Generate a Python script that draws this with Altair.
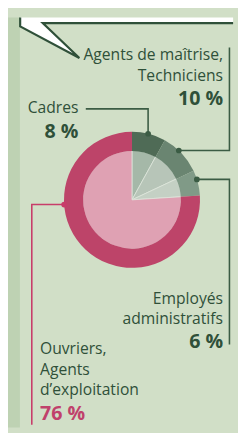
import altair as alt
import pandas as pd
import numpy as np

# ---------------- data ----------------
categories = ["Cadres", "Agents de maîtrise, Techniciens",
              "Employés administratifs", "Ouvriers, Agents d’exploitation"]
shares = [8, 10, 6, 76]
label_lines = [["Cadres"], ["Agents de maîtrise,", "Techniciens"],
               ["Employés", "administratifs"], ["Ouvriers,", "Agents", "d’exploitation"]]
ring_colors = ["#4f6b56", "#6a8571", "#809a87", "#bd4469"]
inner_colors = ["#a5b8a8", "#b7c5b8", "#c4d0c4", "#dfa1b3"]
pct_colors = ["#2f5039", "#2f5039", "#2f5039", "#c0416b"]
leader_colors = ["#3b5c44", "#3b5c44", "#3b5c44", "#c83d6a"]

# ---------------- layout (reference pixel space) ----------------
W_REF, H_REF = 246, 435
W, H = 230, 419
SX, SY = W / W_REF, H / H_REF
CX, CY = 135.5, 193.5
R_OUT, R_IN = 69.5, 50.5
BG = "#d1dfc7"
STRIP = "#bed2b3"
DARK = "#2f5039"

label_x = [77, 235, 235, 35]
label_align = ["right", "right", "right", "left"]
label_first_baseline = [101.5, 45.5, 303.5, 357.5]
line_gap = 21.6
pct_baseline = [127.5, 92.5, 350.5, 427.5]
dot_angles = [13.7, 43.5, 72.5, 266]
# leader: (first direction, elbow coordinate, end coordinate)
leader_spec = [("v", 97, 85), ("h", 242, 32), ("h", 242, 347), ("h", 26, 432)]

x_scale = alt.Scale(domain=[0, W_REF], range=[0, W], nice=False, zero=False)
y_scale = alt.Scale(domain=[0, H_REF], range=[0, H], nice=False, zero=False)
X = lambda f: alt.X(f, scale=x_scale, axis=None)
Y = lambda f: alt.Y(f, scale=y_scale, axis=None)

# ---------------- background shapes ----------------
strip_df = pd.DataFrame({"x": [0], "x2": [13], "y": [0], "y2": [H_REF]})
strip = alt.Chart(strip_df).mark_rect(color=STRIP).encode(
    x=X("x:Q"), x2="x2:Q", y=Y("y:Q"), y2="y2:Q")

bubble_df = pd.DataFrame({"x": [13], "x2": [W_REF], "y": [0], "y2": [6]})
bubble = alt.Chart(bubble_df).mark_rect(color="white").encode(
    x=X("x:Q"), x2="x2:Q", y=Y("y:Q"), y2="y2:Q")

tail_df = pd.DataFrame({"x": [13, 38, 78], "y": [6, 6, 43], "y2": [10, 22.7, 43]})
tail = alt.Chart(tail_df).mark_area(color="white", interpolate="linear").encode(
    x=X("x:Q"), y=Y("y:Q"), y2="y2:Q")

border_df = pd.DataFrame({"x": [W_REF, 38, 78, 13.3, 13.3],
                          "y": [6, 6, 43, 9.5, 0], "o": [0, 1, 2, 3, 4]})
border = alt.Chart(border_df).mark_line(color=DARK, strokeWidth=2.2, strokeJoin="miter").encode(
    x=X("x:Q"), y=Y("y:Q"), order="o:Q")

# ---------------- pie ----------------
pie_df = pd.DataFrame({"cat": categories, "share": shares, "idx": range(4),
                       "ring": ring_colors, "inner": inner_colors})
cx_px, cy_px = CX * SX, CY * SY

inner = alt.Chart(pie_df).mark_arc(radius=R_IN, stroke="#dfe7dc", strokeWidth=0.8).encode(
    x=alt.value(cx_px), y=alt.value(cy_px),
    theta=alt.Theta("share:Q", stack=True),
    order=alt.Order("idx:Q"),
    color=alt.Color("inner:N", scale=None))

ring = alt.Chart(pie_df).mark_arc(radius=R_OUT, radius2=R_IN - 0.6).encode(
    x=alt.value(cx_px), y=alt.value(cy_px),
    theta=alt.Theta("share:Q", stack=True),
    order=alt.Order("idx:Q"),
    color=alt.Color("ring:N", scale=None))

# ---------------- leaders ----------------
rows, dots = [], []
for i, (a, spec) in enumerate(zip(dot_angles, leader_spec)):
    t = np.deg2rad(a)
    dx = CX + (R_OUT / SX) * np.sin(t)
    dy = CY - (R_OUT / SY) * np.cos(t)
    dots.append({"x": dx, "y": dy, "c": leader_colors[i]})
    if spec[0] == "v":
        pts = [(dx, dy), (dx, spec[1]), (spec[2], spec[1])]
    else:
        pts = [(dx, dy), (spec[1], dy), (spec[1], spec[2])]
    for k, (px, py) in enumerate(pts):
        rows.append({"id": i, "o": k, "x": px, "y": py, "c": leader_colors[i]})
lead_df = pd.DataFrame(rows)
dot_df = pd.DataFrame(dots)

leaders = alt.Chart(lead_df).mark_line(strokeWidth=1.6, strokeJoin="miter").encode(
    x=X("x:Q"), y=Y("y:Q"), detail="id:N", order="o:Q",
    color=alt.Color("c:N", scale=None))
dot_layer = alt.Chart(dot_df).mark_circle(size=34, opacity=1).encode(
    x=X("x:Q"), y=Y("y:Q"), color=alt.Color("c:N", scale=None))

# ---------------- labels ----------------
txt_rows, pct_rows = [], []
for i, lines in enumerate(label_lines):
    for k, s in enumerate(lines):
        txt_rows.append({"x": label_x[i], "y": label_first_baseline[i] + k * line_gap,
                         "t": s, "al": label_align[i]})
    pct_rows.append({"x": label_x[i], "y": pct_baseline[i], "t": f"{shares[i]} %",
                     "al": label_align[i], "c": pct_colors[i]})
txt_df = pd.DataFrame(txt_rows)
pct_df = pd.DataFrame(pct_rows)

FONT = "Open Sans"
layers = []
for al in ["right", "left"]:
    layers.append(alt.Chart(txt_df[txt_df.al == al]).mark_text(
        align=al, baseline="alphabetic", font=FONT, fontSize=16, color=DARK).encode(
        x=X("x:Q"), y=Y("y:Q"), text="t:N"))
    layers.append(alt.Chart(pct_df[pct_df.al == al]).mark_text(
        align=al, baseline="alphabetic", font=FONT, fontSize=20, fontWeight="bold").encode(
        x=X("x:Q"), y=Y("y:Q"), text="t:N", color=alt.Color("c:N", scale=None)))

chart = alt.layer(strip, bubble, tail, border, inner, ring, leaders, dot_layer, *layers).properties(
    width=W, height=H, padding=0, background=BG
).configure_view(stroke=None)

chart.save("out.html", embed_options={"renderer": "svg", "actions": False})
